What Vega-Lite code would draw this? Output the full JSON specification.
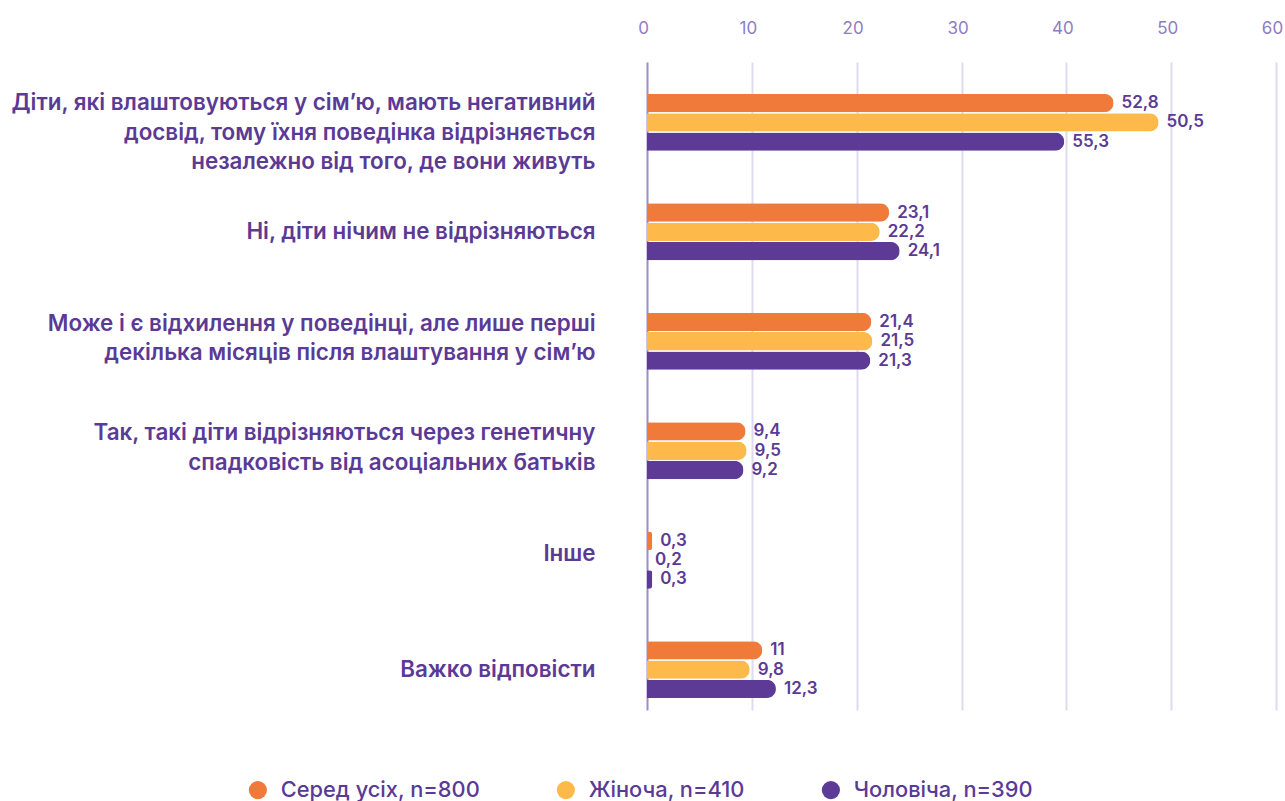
{
  "$schema": "https://vega.github.io/schema/vega-lite/v6.json",
  "width": 629,
  "height": 648,
  "autosize": {"type": "none"},
  "padding": {"left": 647, "top": 62, "right": 9, "bottom": 91},
  "background": "white",
  "config": {"view": {"stroke": null}, "font": "Inter"},
  "data": {
    "values": [
      {"q": "Діти, які влаштовуються у сім’ю, мають негативний|досвід, тому їхня поведінка відрізняється|незалежно від того, де вони живуть", "s": "Серед усіх, n=800", "v": 44.5, "t": "52,8"},
      {"q": "Діти, які влаштовуються у сім’ю, мають негативний|досвід, тому їхня поведінка відрізняється|незалежно від того, де вони живуть", "s": "Жіноча, n=410", "v": 48.8, "t": "50,5"},
      {"q": "Діти, які влаштовуються у сім’ю, мають негативний|досвід, тому їхня поведінка відрізняється|незалежно від того, де вони живуть", "s": "Чоловіча, n=390", "v": 39.8, "t": "55,3"},
      {"q": "Ні, діти нічим не відрізняються", "s": "Серед усіх, n=800", "v": 23.1, "t": "23,1"},
      {"q": "Ні, діти нічим не відрізняються", "s": "Жіноча, n=410", "v": 22.2, "t": "22,2"},
      {"q": "Ні, діти нічим не відрізняються", "s": "Чоловіча, n=390", "v": 24.1, "t": "24,1"},
      {"q": "Може і є відхилення у поведінці, але лише перші|декілька місяців після влаштування у сім’ю", "s": "Серед усіх, n=800", "v": 21.4, "t": "21,4"},
      {"q": "Може і є відхилення у поведінці, але лише перші|декілька місяців після влаштування у сім’ю", "s": "Жіноча, n=410", "v": 21.5, "t": "21,5"},
      {"q": "Може і є відхилення у поведінці, але лише перші|декілька місяців після влаштування у сім’ю", "s": "Чоловіча, n=390", "v": 21.3, "t": "21,3"},
      {"q": "Так, такі діти відрізняються через генетичну|спадковість від асоціальних батьків", "s": "Серед усіх, n=800", "v": 9.4, "t": "9,4"},
      {"q": "Так, такі діти відрізняються через генетичну|спадковість від асоціальних батьків", "s": "Жіноча, n=410", "v": 9.5, "t": "9,5"},
      {"q": "Так, такі діти відрізняються через генетичну|спадковість від асоціальних батьків", "s": "Чоловіча, n=390", "v": 9.2, "t": "9,2"},
      {"q": "Інше", "s": "Серед усіх, n=800", "v": 0.5, "t": "0,3"},
      {"q": "Інше", "s": "Жіноча, n=410", "v": 0, "t": "0,2"},
      {"q": "Інше", "s": "Чоловіча, n=390", "v": 0.5, "t": "0,3"},
      {"q": "Важко відповісти", "s": "Серед усіх, n=800", "v": 11, "t": "11"},
      {"q": "Важко відповісти", "s": "Жіноча, n=410", "v": 9.8, "t": "9,8"},
      {"q": "Важко відповісти", "s": "Чоловіча, n=390", "v": 12.3, "t": "12,3"}
    ]
  },
  "encoding": {
    "y": {
      "field": "q", "type": "nominal", "sort": null,
      "scale": {"paddingInner": 0.48, "paddingOuter": 0.2},
      "axis": {
        "title": null, "domain": false, "ticks": false, "tickSize": 0, "grid": false,
        "labelPadding": 52, "labelFontSize": 22.4, "labelFontWeight": 600, "labelColor": "#5B3A96",
        "labelFont": "Inter", "labelLimit": 800, "labelAlign": "right", "labelBaseline": "middle",
        "labelLineHeight": 29.5, "labelExpr": "split(datum.label, '|')",
        "labelOffset": {
          "condition": [
            {"test": "length(split(datum.value, '|')) == 3", "value": -9},
            {"test": "length(split(datum.value, '|')) == 2", "value": -7.5},
            {"test": "datum.value == 'Інше'", "value": 4}
          ],
          "value": 10
        }
      }
    },
    "yOffset": {
      "field": "s", "type": "nominal",
      "sort": ["Серед усіх, n=800", "Жіноча, n=410", "Чоловіча, n=390"],
      "scale": {"range": [10, 66.9], "paddingInner": 0.05, "paddingOuter": 0}
    },
    "x": {
      "field": "v", "type": "quantitative",
      "scale": {"domain": [0, 60]},
      "axis": {
        "orient": "top", "title": null, "domain": false, "ticks": false, "tickSize": 0,
        "values": [0, 10, 20, 30, 40, 50, 60], "labelFlush": false, "labelOffset": -4,
        "labelPadding": 25, "labelFontSize": 17, "labelColor": "#8E7DC2", "labelFont": "Inter",
        "grid": true, "gridWidth": 2,
        "gridColor": {"condition": {"test": "datum.value === 0", "value": "#9E8BC9"}, "value": "#DEDAF0"}
      }
    }
  },
  "layer": [
    {
      "mark": {"type": "bar", "cornerRadiusEnd": 9},
      "encoding": {
        "color": {
          "field": "s", "type": "nominal",
          "scale": {
            "domain": ["Серед усіх, n=800", "Жіноча, n=410", "Чоловіча, n=390"],
            "range": ["#F07A39", "#FDB94A", "#5C3A95"]
          },
          "legend": {
            "orient": "none", "legendX": -400, "legendY": 717, "direction": "horizontal",
            "title": null, "symbolType": "circle", "symbolSize": 330, "symbolStrokeWidth": 0,
            "symbolOpacity": 1, "labelFontSize": 21.8, "labelFont": "Inter", "labelFontWeight": 500,
            "labelColor": "#5B3A96", "labelOffset": 12, "columnPadding": 75, "padding": 0,
            "labelLimit": 400
          }
        }
      }
    },
    {
      "mark": {"type": "text", "align": "left", "baseline": "middle", "dx": 8, "fontSize": 17, "fontWeight": 600, "color": "#5B3A96", "font": "Inter"},
      "encoding": {"text": {"field": "t"}}
    }
  ]
}
